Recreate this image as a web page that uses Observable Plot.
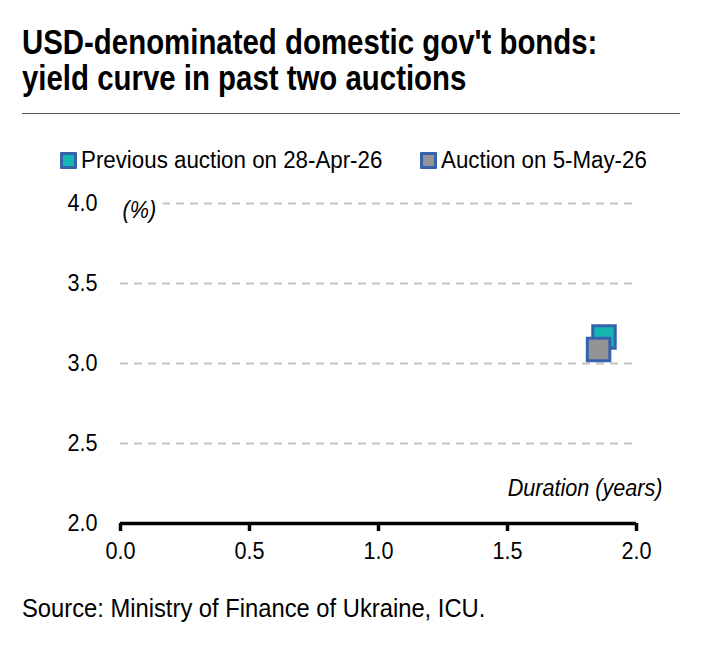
<!DOCTYPE html>
<html>
<head>
<meta charset="utf-8">
<script src="https://cdn.jsdelivr.net/npm/d3@7"></script>
<script src="https://cdn.jsdelivr.net/npm/@observablehq/plot@0.6"></script>
<style>
  html, body { margin: 0; padding: 0; background: #fff; }
  body { width: 704px; height: 649px; position: relative; overflow: hidden;
         font-family: "Liberation Sans", Arial, sans-serif; color: #000; }
  .narrow { display: inline-block; white-space: nowrap; transform-origin: left center; }
  #title { position: absolute; left: 22px; top: 24px; font-size: 35px; font-weight: bold; line-height: 36px; }
  #title .narrow { transform: scaleX(0.84); line-height: 36px; }
  #rule { position: absolute; left: 22px; top: 113px; width: 658px; height: 0; border-top: 1.5px solid #555; }
  .item { position: absolute; top: 146px; height: 28px; display: flex; align-items: center; white-space: nowrap; }
  .swatch { width: 11px; height: 11px; border: 3px solid #3563ab; border-radius: 1px; flex: none; }
  .item .narrow { font-size: 23px; transform: scaleX(0.97); margin-left: 4px; }
  #chart { position: absolute; left: 0; top: 180px; }
  #source { position: absolute; left: 22px; top: 594px; font-size: 25px; }
  #source .narrow { transform: scaleX(0.95); }
</style>
</head>
<body>
<div id="title"><span class="narrow">USD-denominated domestic gov't bonds:</span><br><span class="narrow">yield curve in past two auctions</span></div>
<div id="rule"></div>
<div id="legend"></div>
<div id="chart"></div>
<div id="source"><span class="narrow">Source: Ministry of Finance of Ukraine, ICU.</span></div>
<script>
// Auction series: duration (years) and yield (%)
const seriesNames = ["Previous auction on 28-Apr-26", "Auction on 5-May-26"];
const seriesFill = ["#17b5b2", "#949494"];
const durations = [1.874, 1.853];
const yields = [3.166, 3.088];

const xTicks = [0, 0.5, 1, 1.5, 2];
const yTicks = [2.0, 2.5, 3.0, 3.5, 4.0];
const yGrid = [2.5, 3.0, 3.5, 4.0];
const yUnit = "(%)";
const xTitle = "Duration (years)";

const points = seriesNames.map((name, i) => ({name, x: durations[i], y: yields[i], fill: seriesFill[i]}));

// legend entries, placed side by side above the plot
const legend = document.getElementById("legend");
const legendLeft = [60, 420];
seriesNames.forEach((name, i) => {
  const item = document.createElement("div");
  item.className = "item";
  item.style.left = legendLeft[i] + "px";
  const sw = document.createElement("span");
  sw.className = "swatch";
  sw.style.background = seriesFill[i];
  const label = document.createElement("span");
  label.className = "narrow";
  label.textContent = name;
  item.appendChild(sw);
  item.appendChild(label);
  legend.appendChild(item);
});

const chart = Plot.plot({
  width: 704,
  height: 385,
  marginLeft: 120,
  marginRight: 68,
  marginTop: 23,
  marginBottom: 42,
  style: {fontFamily: "Liberation Sans, Arial, sans-serif", fontSize: "24px", color: "#000", background: "transparent", overflow: "visible"},
  x: {domain: [0, 2]},
  y: {domain: [2, 4]},
  marks: [
    Plot.ruleY(yGrid, {stroke: "#c4c4c4", strokeWidth: 2, strokeDasharray: "8,6", insetRight: 4}),
    Plot.text([yUnit], {frameAnchor: "top-left", dx: 2, dy: -3, textAnchor: "start", lineAnchor: "top",
      fontStyle: "italic", fontSize: 24, stroke: "white", strokeWidth: 18, fill: "#000"}),
    Plot.axisY({ticks: yTicks, tickFormat: d3.format(".1f"), tickSize: 0, tickPadding: 23, label: null, fontSize: 24}),
    Plot.ruleY([2], {stroke: "#000", strokeWidth: 3.5}),
    Plot.axisX({ticks: xTicks, tickFormat: d3.format(".1f"), tickSize: 8, tickPadding: 10, strokeWidth: 3.5, label: null, fontSize: 24}),
    Plot.text([xTitle], {frameAnchor: "bottom-right", dx: 26, dy: -28, textAnchor: "end", fontStyle: "italic", fontSize: 24}),
    Plot.dot(points, {x: "x", y: "y", symbol: "square", r: 12.7, fill: "fill", stroke: "#3563ab", strokeWidth: 3})
  ]
});
document.getElementById("chart").appendChild(chart);

// condense every label horizontally around its own anchor point
const SX = 0.9;
chart.querySelectorAll("text").forEach(t => {
  let px = 0, py = 0;
  const m = t.transform.baseVal.consolidate();
  if (m) { px += m.matrix.e; py += m.matrix.f; }
  if (t.x.baseVal.numberOfItems) px += t.x.baseVal.getItem(0).value;
  if (t.y.baseVal.numberOfItems) py += t.y.baseVal.getItem(0).value;
  const g = document.createElementNS("http://www.w3.org/2000/svg", "g");
  g.setAttribute("transform", `translate(${px},${py}) scale(${SX},1) translate(${-px},${-py})`);
  t.parentNode.insertBefore(g, t);
  g.appendChild(t);
});
</script>
</body>
</html>
